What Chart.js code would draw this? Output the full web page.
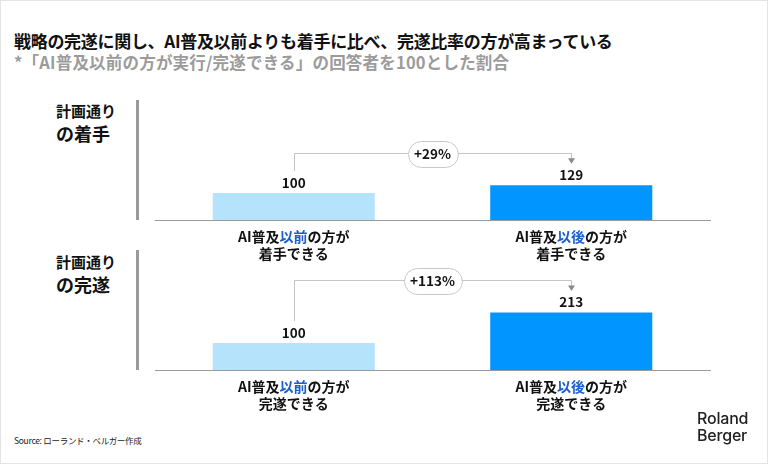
<!DOCTYPE html>
<html lang="ja">
<head>
<meta charset="utf-8">
<script src="https://cdn.jsdelivr.net/npm/chart.js@4/dist/chart.umd.min.js"></script>
<style>
  html, body { margin:0; padding:0; background:#fff; }
  body { width:768px; height:464px; position:relative; overflow:hidden; font-family:"Noto Sans CJK JP","Noto Sans",sans-serif; }
  .frame { position:absolute; left:0; top:0; width:766px; height:462px; border:1px solid #e4e4e4; }
  .t { position:absolute; white-space:nowrap; }
  #title { left:14px; top:30px; font-size:17px; line-height:22px; font-weight:700; color:#111; letter-spacing:-0.3px; }
  #subtitle { left:14px; top:51px; font-size:16.5px; line-height:22px; font-weight:700; color:#9b9b9b; letter-spacing:0.2px; }
  .plab1 { left:56px; font-size:15px; line-height:18px; font-weight:700; color:#111; }
  .plab2 { left:56px; font-size:18px; line-height:22px; font-weight:700; color:#111; }
  .vline { position:absolute; left:136px; width:3px; background:#9a9a9a; }
  #source { left:14px; top:433px; font-size:8.5px; line-height:14px; color:#222; letter-spacing:-0.3px; }
  #logo { left:697px; top:410px; font-size:16px; line-height:17px; font-weight:500; color:#222; font-family:"Inter","Noto Sans",sans-serif; letter-spacing:-0.2px; }
  canvas { position:absolute; left:0; }
</style>
</head>
<body>
<div class="frame"></div>
<div id="title" class="t">戦略の完遂に関し、AI普及以前よりも着手に比べ、完遂比率の方が高まっている</div>
<div id="subtitle" class="t">*「AI普及以前の方が実行/完遂できる」の回答者を100とした割合</div>

<div class="t plab1" style="top:102px">計画通り</div>
<div class="t plab2" style="top:122px">の着手</div>
<div class="vline" style="top:100px;height:120px"></div>

<div class="t plab1" style="top:253px">計画通り</div>
<div class="t plab2" style="top:273px">の完遂</div>
<div class="vline" style="top:250px;height:120px"></div>

<canvas id="c1" width="768" height="180" style="top:90px"></canvas>
<canvas id="c2" width="768" height="180" style="top:240px"></canvas>

<div id="source" class="t">Source: ローランド・ベルガー作成</div>
<div id="logo" class="t">Roland<br>Berger</div>

<script>
// ---- data ----
const panel1Labels = [['AI普及{以前}の方が', '着手できる'], ['AI普及{以後}の方が', '着手できる']];
const panel1Values = [100, 129];
const panel2Labels = [['AI普及{以前}の方が', '完遂できる'], ['AI普及{以後}の方が', '完遂できる']];
const panel2Values = [100, 213];
const barColors = ['#b5e3fb', '#0095ff'];
const highlightColor = '#1b5fcc';
const textColor = '#111111';
const FONT = '"Noto Sans CJK JP","Noto Sans",sans-serif';

const annotate = {
  id: 'annotate',
  afterDatasetsDraw(chart) {
    const ctx = chart.ctx;
    const bars = chart.getDatasetMeta(0).data;
    const values = chart.data.datasets[0].data;
    const labels = chart.data.labels;
    const area = chart.chartArea;
    ctx.save();
    // value labels
    ctx.fillStyle = textColor;
    ctx.font = 'bold 13.5px ' + FONT;
    ctx.textAlign = 'center';
    ctx.textBaseline = 'middle';
    bars.forEach((b, i) => ctx.fillText(String(values[i]), b.x, b.y - 10.5));
    // category labels with highlighted word
    ctx.font = 'bold 14px ' + FONT;
    ctx.textAlign = 'left';
    bars.forEach((b, i) => {
      labels[i].forEach((line, li) => {
        const parts = line.split(/[{}]/);
        const widths = parts.map(p => ctx.measureText(p).width);
        let x = b.x - widths.reduce((a, c) => a + c, 0) / 2;
        const y = area.bottom + 16.5 + li * 17;
        parts.forEach((p, pi) => {
          ctx.fillStyle = pi === 1 ? highlightColor : textColor;
          ctx.fillText(p, x, y);
          x += widths[pi];
        });
      });
    });
    // bracket
    const x1 = bars[0].x, x2 = bars[1].x;
    const hy = Math.round(Math.min(bars[0].y, bars[1].y) - 32) + 0.5;
    ctx.strokeStyle = '#c4c4c4';
    ctx.lineWidth = 1;
    ctx.beginPath();
    ctx.moveTo(Math.round(x1) + 0.5, bars[0].y - 22);
    ctx.lineTo(Math.round(x1) + 0.5, hy);
    ctx.lineTo(Math.round(x2) + 0.5, hy);
    ctx.lineTo(Math.round(x2) + 0.5, bars[1].y - 26);
    ctx.stroke();
    ctx.fillStyle = '#8a8a8a';
    ctx.beginPath();
    ctx.moveTo(Math.round(x2) + 0.5 - 3.5, bars[1].y - 27);
    ctx.lineTo(Math.round(x2) + 0.5 + 3.5, bars[1].y - 27);
    ctx.lineTo(Math.round(x2) + 0.5, bars[1].y - 21.5);
    ctx.closePath();
    ctx.fill();
    // pill
    const pct = Math.round((values[1] - values[0]) / values[0] * 100);
    const txt = (pct >= 0 ? '+' : '') + pct + '%';
    ctx.font = 'bold 13.5px ' + FONT;
    const w = ctx.measureText(txt).width + 13;
    const h = 26, cx = (x1 + x2) / 2;
    const r = h / 2;
    const lx = Math.round(cx - w / 2) + 0.5, ty = Math.round(hy - h / 2) + 0.5;
    ctx.beginPath();
    ctx.roundRect(lx, ty, w, h, r);
    ctx.fillStyle = '#ffffff';
    ctx.fill();
    ctx.strokeStyle = '#c8c8c8';
    ctx.stroke();
    ctx.fillStyle = textColor;
    ctx.textAlign = 'center';
    ctx.fillText(txt, cx, hy + 0.5);
    ctx.restore();
  }
};

function makePanel(id, labels, values) {
  return new Chart(document.getElementById(id), {
    type: 'bar',
    data: {
      labels: labels,
      datasets: [{
        data: values,
        backgroundColor: barColors,
        borderWidth: 0,
        barPercentage: 1,
        categoryPercentage: 0.584
      }]
    },
    options: {
      responsive: false,
      animation: false,
      devicePixelRatio: 1,
      layout: { padding: { left: 155, right: 58, top: 22, bottom: 50 } },
      plugins: { legend: { display: false }, tooltip: { enabled: false } },
      scales: {
        x: {
          grid: { display: false, drawTicks: false },
          ticks: { display: false },
          border: { display: true, color: '#9a9a9a', width: 1 }
        },
        y: { display: false, min: 0, max: 400 }
      }
    },
    plugins: [annotate]
  });
}

makePanel('c1', panel1Labels, panel1Values);
makePanel('c2', panel2Labels, panel2Values);
</script>
</body>
</html>
